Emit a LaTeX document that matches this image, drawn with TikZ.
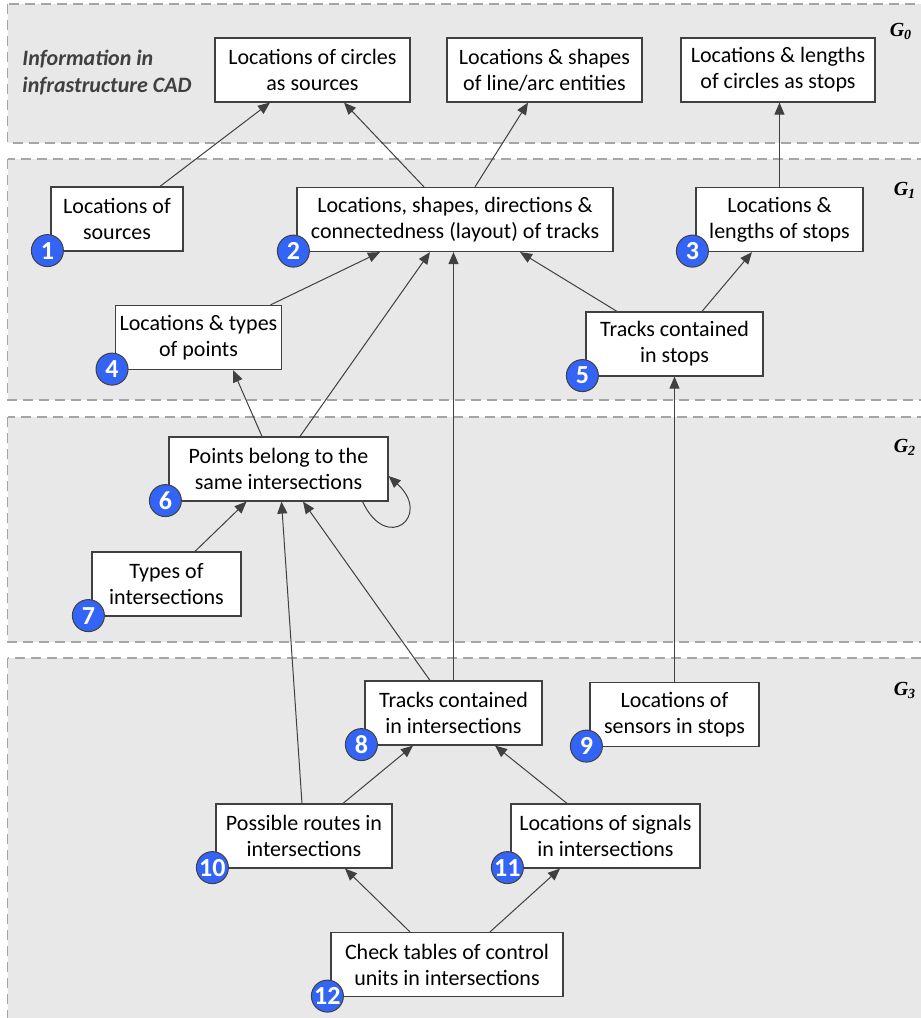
\documentclass[tikz,border=0pt]{standalone}
\usepackage{fontspec}
\setmainfont{Carlito}
\newfontfamily\gfont{Liberation Serif}
\usepackage{tikz}
\usetikzlibrary{arrows.meta,positioning}

\definecolor{bandgray}{RGB}{232,232,232}
\definecolor{banddash}{RGB}{165,165,165}
\definecolor{boxline}{RGB}{64,64,64}
\definecolor{badgeblue}{RGB}{52,100,245}

\begin{document}
\begin{tikzpicture}[
    x=0.5pt, y=-0.5pt,
    box/.style={
        rectangle,
        draw=boxline,
        fill=white,
        line width=0.6pt,
        minimum width=#1,
        minimum height=32pt,
        inner sep=2pt,
        align=center,
        font=\fontsize{11}{13}\selectfont
    },
    band/.style={draw=banddash, fill=bandgray, dash pattern=on 5pt off 3pt, line width=0.6pt},
    badge/.style={circle, draw=boxline, fill=badgeblue, text=white, minimum size=16pt, inner sep=0pt, line width=0.5pt, font=\fontsize{13}{13}\bfseries\selectfont},
    level/.style={inner sep=0pt, font=\gfont\fontsize{10}{10}\bfseries\itshape\selectfont},
    info/.style={inner sep=0pt, align=left, text=boxline, font=\fontsize{11}{13.5}\bfseries\itshape\selectfont},
    arrow/.style={-{Triangle[length=6pt,width=5pt]}, draw=boxline, line width=0.5pt}
]
\useasboundingbox (0,0) rectangle (921,1018);

% Layer bands
\draw[band] (7.5,4) rectangle (930,143);
\draw[band] (7.5,159) rectangle (930,400);
\draw[band] (7.5,417) rectangle (930,642);
\draw[band] (7.5,658) rectangle (930,1040);

\node[level] (g0) at (901,31) {G\textsubscript{0}};
\node[level] (g1) at (905,190) {G\textsubscript{1}};
\node[level] (g2) at (905,447) {G\textsubscript{2}};
\node[level] (g3) at (905,690) {G\textsubscript{3}};

% G0: infrastructure CAD
\node[info, anchor=west] (cadinfo) at (22,73) {Information in\\infrastructure CAD};
\node[box=97.5pt] (srccircles) at (312.5,70) {Locations of circles\\as sources};
\node[box=97.5pt] (linearc) at (544.5,70) {Locations \& shapes\\of line/arc entities};
\node[box=97pt] (stopcircles) at (778,70) {Locations \& lengths\\of circles as stops};

% G1
\node[box=66pt] (n1) at (117,219) {Locations of\\sources};
\node[box=158pt] (n2) at (455,219.5) {Locations, shapes, directions \&\\connectedness (layout) of tracks};
\node[box=83.5pt] (n3) at (779.5,219.5) {Locations \&\\lengths of stops};
\node[box=76.5pt] (n4) at (198.5,337.5) {Locations \& types\\of points};
\node[box=88.5pt] (n5) at (674.5,344) {Tracks contained\\in stops};

% G2
\node[box=109.5pt] (n6) at (278.5,469) {Points belong to the\\same intersections};
\node[box=74.5pt] (n7) at (166.5,584) {Types of\\intersections};

% G3
\node[box=88.5pt] (n8) at (453.5,713) {Tracks contained\\in intersections};
\node[box=84.5pt] (n9) at (674.5,714.5) {Locations of\\sensors in stops};
\node[box=88pt] (n10) at (304,836) {Possible routes in\\intersections};
\node[box=94.5pt] (n11) at (605.5,836) {Locations of signals\\in intersections};
\node[box=116pt] (n12) at (447,964.5) {Check tables of control\\units in intersections};

% Number badges
\foreach \i in {1,...,12}
    \node[badge] (b\i) at ([shift={(-1.5pt,0.5pt)}]n\i.south west) {\i};

% Arrows into G0
\draw[arrow] ([xshift=21.5pt]n1.north) -- ([xshift=-21.25pt]srccircles.south);
\draw[arrow] ([xshift=-15.5pt]n2.north) -- ([xshift=15.75pt]srccircles.south);
\draw[arrow] ([xshift=10pt]n2.north) -- ([xshift=-8.25pt]linearc.south);
\draw[arrow] (n3.north) -- (n3.north |- stopcircles.south);

% Arrows into G1
\draw[arrow] ([xshift=36pt]n4.north) -- ([xshift=-37.5pt]n2.south);
\draw[arrow] ([xshift=10.75pt]n6.north) -- ([xshift=-12.5pt]n2.south);
\draw[arrow] (n8.north) -- (n8.north |- n2.south);
\draw[arrow] ([xshift=-28.75pt]n5.north) -- ([xshift=32.5pt]n2.south);
\draw[arrow] ([xshift=13.75pt]n5.north) -- ([xshift=-13.75pt]n3.south);
\draw[arrow] ([xshift=-8.25pt]n6.north) -- ([xshift=17.25pt]n4.south);
\draw[arrow] (n9.north) -- (n9.north |- n5.south);

% Arrows into G2
\draw[arrow] ([xshift=-13pt]n6.south east) .. controls +(12pt,-26pt) and +(22pt,-20pt) .. ([yshift=-3.5pt]n6.east);
\draw[arrow] ([xshift=14.25pt]n7.north) -- ([xshift=-16pt]n6.south);
\draw[arrow] ([xshift=-11.75pt]n8.north) -- ([xshift=12.25pt]n6.south);
\draw[arrow] ([xshift=-1pt]n10.north) -- ([xshift=1.5pt]n6.south);

% Arrows inside G3
\draw[arrow] ([xshift=19.5pt]n10.north) -- ([xshift=-20.25pt]n8.south);
\draw[arrow] ([xshift=-19.25pt]n11.north) -- ([xshift=20.75pt]n8.south);
\draw[arrow] ([xshift=-18.5pt]n12.north) -- ([xshift=20.5pt]n10.south);
\draw[arrow] ([xshift=21.5pt]n12.north) -- ([xshift=-22.75pt]n11.south);

\end{tikzpicture}
\end{document}
